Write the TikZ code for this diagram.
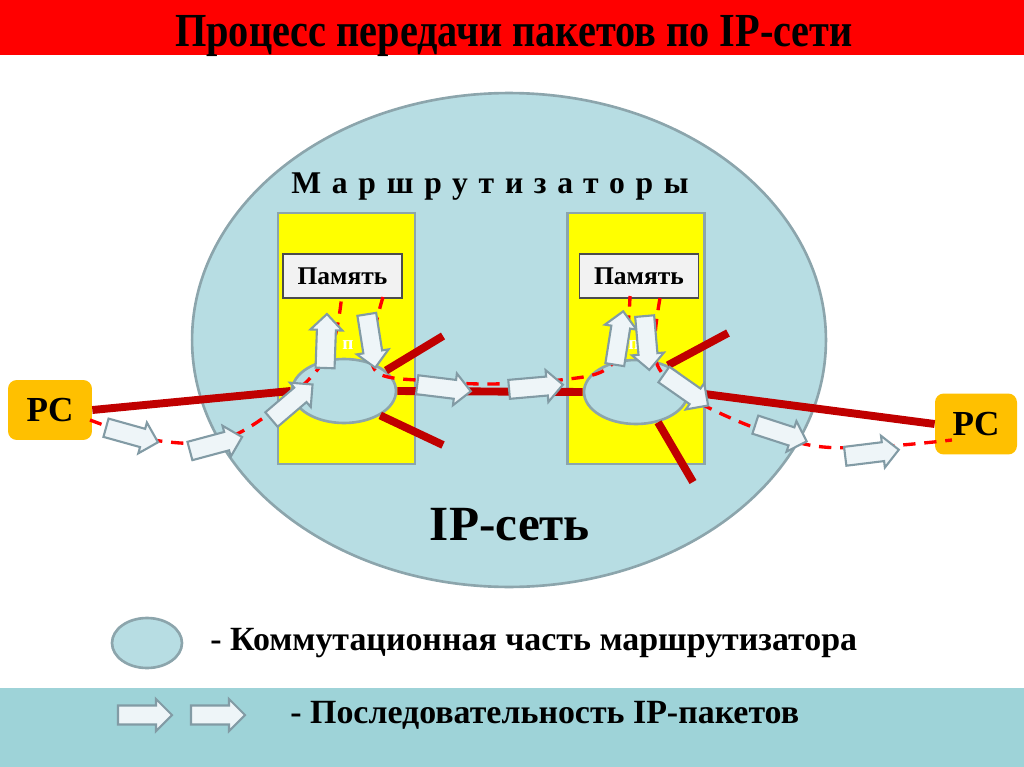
\documentclass[tikz,border=0pt]{standalone}
\usepackage{graphicx}
\usepackage{fontspec}
\setmainfont{Liberation Serif}
\newfontfamily\spacedfont[LetterSpace=34]{Liberation Serif}
\usetikzlibrary{shapes.geometric}
\definecolor{netfill}{RGB}{183,221,227}
\definecolor{netline}{RGB}{140,165,172}
\definecolor{routerfill}{RGB}{255,255,0}
\definecolor{linkred}{RGB}{192,0,0}
\definecolor{pathred}{RGB}{255,0,0}
\definecolor{pcfill}{RGB}{255,192,0}
\definecolor{pktfill}{RGB}{238,245,248}
\definecolor{pktline}{RGB}{130,155,165}
\definecolor{bandfill}{RGB}{158,211,216}
\definecolor{memfill}{RGB}{242,242,242}
\tikzset{
 router/.style={draw=netline, line width=1.3pt, fill=routerfill, minimum width=2.74cm, minimum height=5.02cm, inner sep=0},
 memory/.style={draw=black!70, line width=0.8pt, fill=memfill, minimum width=2.38cm, minimum height=0.88cm, inner sep=0, font=\fontsize{14.5}{16}\selectfont\bfseries},
 switch/.style={ellipse, draw=netline, line width=1.5pt, fill=netfill, minimum width=2.08cm, minimum height=1.28cm, inner sep=0},
 pc/.style={fill=pcfill, rounded corners=5pt, minimum width=1.68cm, minimum height=1.2cm, inner sep=0, font=\fontsize{20}{22}\selectfont\bfseries},
 link/.style={draw=linkred, line width=4.5pt},
 flow/.style={draw=pathred, line width=1.9pt, dash pattern=on 7pt off 5pt},
 pkt/.pic={\draw[draw=pktline, fill=pktfill, line width=1.2pt, line join=miter] (-27,-9.5) -- (11,-9.5) -- (11,-16) -- (27,0) -- (11,16) -- (11,9.5) -- (-27,9.5) -- cycle;},
 legtext/.style={anchor=west, inner sep=0, font=\fontsize{19.3}{22}\selectfont\bfseries},
 plabel/.style={text=white, inner sep=0, font=\fontsize{11}{12}\selectfont\bfseries},
}
\begin{document}
\begin{tikzpicture}[x=0.02cm,y=-0.02cm]
\useasboundingbox (0,0) rectangle (1024,767);
\fill[pathred] (0,0) rectangle (1024,55);
\node[anchor=base, inner sep=0, font=\fontsize{27}{30}\selectfont\bfseries] (title) at (514,47) {\scalebox{0.85}[1]{Процесс передачи пакетов по IP-сети}};
\fill[bandfill] (0,688) rectangle (1024,767);
\node[ellipse, draw=netline, line width=1.5pt, fill=netfill, minimum width=12.68cm, minimum height=9.88cm] (net) at (509,340) {};
\node[inner sep=0, font=\spacedfont\fontsize{18}{20}\selectfont\bfseries] (routers) at (490,187) {Маршрутизаторы};
\node[router] (rA) at (346.5,338.5) {};
\node[router] (rB) at (636,338.5) {};
\node[memory] (mA) at (342.5,276) {Память};
\node[memory] (mB) at (639,276) {Память};
\node[switch] (sA) at (344,391) {};
\node[switch] (sB) at (636,392) {};
\node[pc] (pcA) at (50,410) {PC};
\node[pc, minimum width=1.64cm, minimum height=1.22cm] (pcB) at (976,424) {PC};
\node[inner sep=0, font=\fontsize{28}{32}\selectfont\bfseries] (ipnet) at (510,525) {IP-сеть};
\coordinate (aUp) at (443,336);
\coordinate (aDn) at (443,445);
\coordinate (bUp) at (728,333);
\coordinate (bDn) at (693,482);
\draw[link] (pcA.east) -- (sA.west);
\draw[link] (sA.east) -- (sB.west);
\draw[link] (sB.east) -- (pcB.west);
\draw[link] (sA.26) -- (aUp);
\draw[link] (sA.-34) -- (aDn);
\draw[link] (sB.40) -- (bUp);
\draw[link] (sB.-54) -- (bDn);
\draw[flow] plot[smooth, tension=0.6] coordinates {(90,420) (160,441) (230,437) (300,388) (332,345) (342,293)};
\draw[flow] plot[smooth, tension=0.6] coordinates {(383,297) (373,340) (378,373) (430,381) (490,384) (560,380) (605,370) (625,340) (630,296)};
\draw[flow] plot[smooth, tension=0.6] coordinates {(660,298) (655,340) (662,373) (707,407) (800,443) (870,447) (952,440)};
\node[plabel] (pA) at (348,345) {п};
\node[plabel] (pB) at (634,345) {п};
\pic[rotate=-15.6] at (132,435) {pkt};
\pic[rotate=15] at (216,444) {pkt};
\pic[rotate=40.5] at (292,402) {pkt};
\pic[rotate=88] at (326,341) {pkt};
\pic[rotate=-81] at (371,341) {pkt};
\pic[rotate=-7] at (444,388) {pkt};
\pic[rotate=5] at (536,387) {pkt};
\pic[rotate=81] at (619,338) {pkt};
\pic[rotate=-85] at (647,343) {pkt};
\pic[rotate=-35] at (686,390) {pkt};
\pic[rotate=-18] at (781,433) {pkt};
\pic[rotate=7] at (872,453) {pkt};
\node[switch, minimum width=1.4cm, minimum height=1.0cm] (legSw) at (147,643) {};
\node[legtext] (legSwTxt) at (210,643) {- Коммутационная часть маршрутизатора};
\pic at (145,715) {pkt};
\pic at (218,715) {pkt};
\node[legtext] (legPktTxt) at (290,715) {- Последовательность IP-пакетов};
\end{tikzpicture}
\end{document}
